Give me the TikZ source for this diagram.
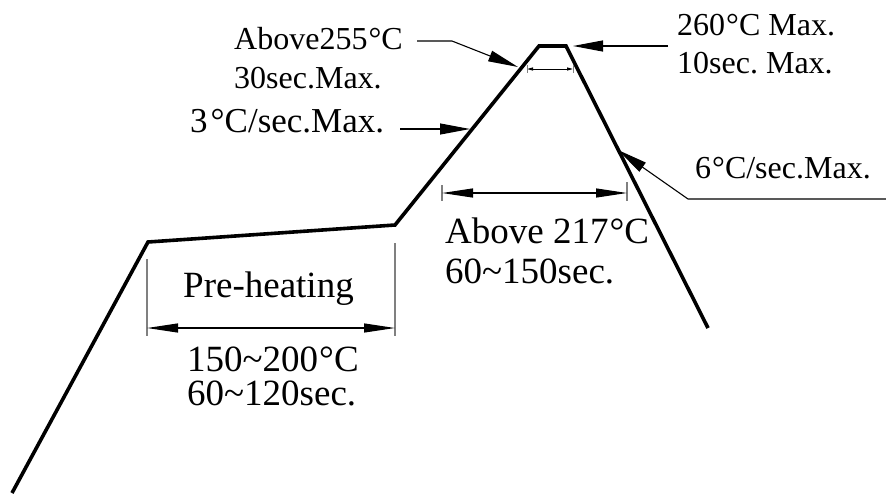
\documentclass[tikz,border=0pt]{standalone}
\usepackage{fontspec}
\setmainfont{Liberation Serif}
\usetikzlibrary{arrows.meta}
\newcommand{\dg}{\kern1pt°C}
\frenchspacing
\begin{document}
\begin{tikzpicture}[x=1pt,y=-1pt,
 profile/.style={line width=3.6pt, line join=miter},
 leader/.style={line width=1.1pt, -{Triangle[length=30pt,width=11pt]}},
 dimline/.style={line width=1.2pt, {Triangle[length=31pt,width=9pt]}-{Triangle[length=31pt,width=9pt]}},
 smalldim/.style={line width=1pt, {Triangle[length=6pt,width=3pt]}-{Triangle[length=6pt,width=3pt]}},
 ext/.style={line width=1.2pt, draw=gray},
 lbl/.style={anchor=base west, inner sep=0pt, font=\fontsize{32}{38}\selectfont},
 big/.style={anchor=base west, inner sep=0pt, font=\fontsize{37}{42}\selectfont}]
\useasboundingbox (0,0) rectangle (886,493);
% profile
\coordinate (p0) at (12,493);
\coordinate (p1) at (148,242);
\coordinate (p2) at (395,225);
\coordinate (p3) at (539,46);
\coordinate (p4) at (566,46);
\coordinate (p5) at (708,328);
\draw[profile] (p0) -- (p1) -- (p2) -- (p3) -- (p4) -- (p5);
% labels
\node[lbl] (a255) at (234,49) {Above255\dg};
\node[lbl] (a30) at (234,88) {30sec.Max.};
\node[lbl, font=\fontsize{35}{40}\selectfont] (r3) at (190,132) {3\kern3pt°C/sec.Max.};
\node[lbl] (m260) at (677,35) {260\dg{} Max.};
\node[lbl] (m10) at (677,73) {10sec. Max.};
\node[lbl] (r6) at (695,178) {6\dg/sec.Max.};
\node[big] (a217) at (445,243) {Above 217\dg};
\node[big] (t150) at (445,283) {60\textasciitilde150sec.};
\node[big] (pre) at (183,297) {Pre-heating};
\node[big] (c150) at (187,371) {150\textasciitilde200\dg};
\node[big] (t60) at (187,405) {60\textasciitilde120sec.};
% leaders
\coordinate (l1s) at (417,41); \coordinate (l1k) at (452,41); \coordinate (l1e) at (518,67);
\draw[leader] (l1s) -- (l1k) -- (l1e);
\coordinate (l2s) at (668,46); \coordinate (l2e) at (573,46);
\draw[leader] (l2s) -- (l2e);
\coordinate (l3s) at (400,129); \coordinate (l3e) at (470,129);
\draw[leader] (l3s) -- (l3e);
\coordinate (l4s) at (886,199); \coordinate (l4k) at (688,199); \coordinate (l4e) at (618,150);
\draw[leader] (l4s) -- (l4k) -- (l4e);
% small top dimension
\coordinate (s1) at (527,69); \coordinate (s2) at (573,69);
\draw[smalldim] (s1) -- (s2);
\draw[ext,line width=0.8pt] (527,65) -- (527,73) (573,65) -- (573,73);
% above 217 dimension
\coordinate (d1) at (442,193); \coordinate (d2) at (627,193);
\draw[ext] (442,185) -- (442,201) (627,182) -- (627,201);
\draw[dimline] (d1) -- (d2);
% preheating dimension
\coordinate (e1) at (147,328); \coordinate (e2) at (395,328);
\draw[ext] (147,259) -- (147,336) (395,243) -- (395,336);
\draw[dimline] (e1) -- (e2);
\end{tikzpicture}
\end{document}
